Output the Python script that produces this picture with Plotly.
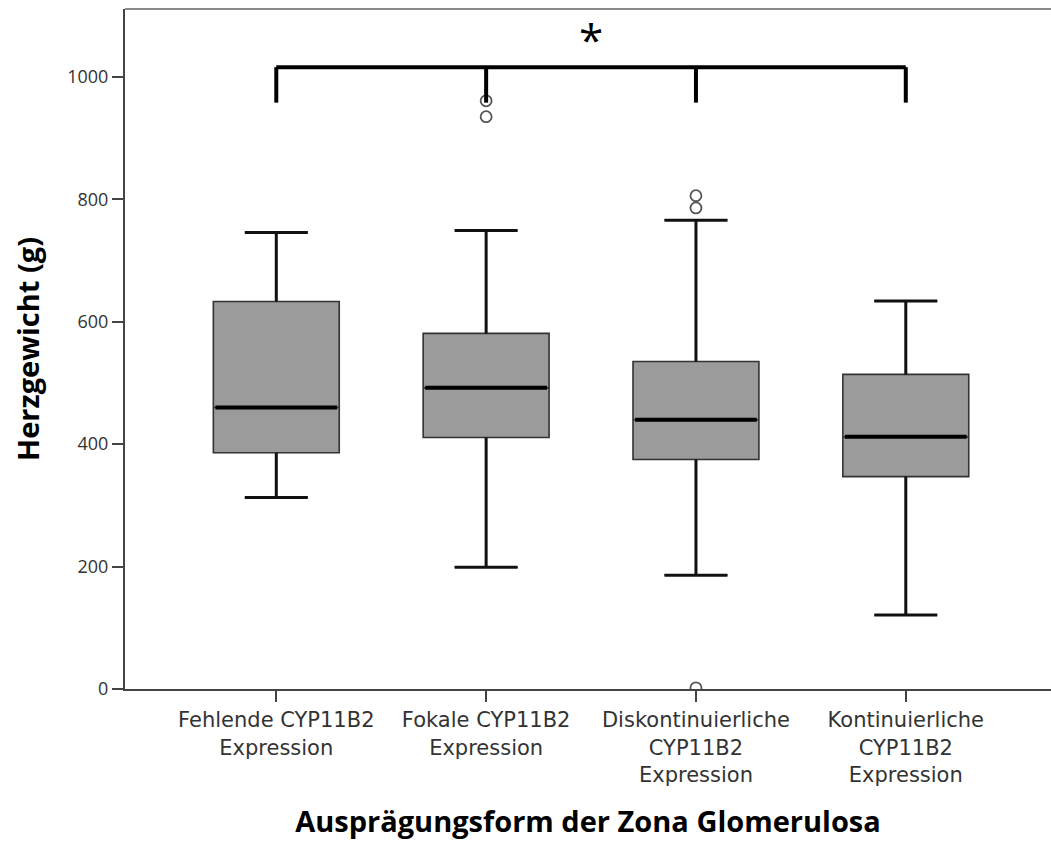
import plotly.graph_objects as go

# Heart weight by zona glomerulosa CYP11B2 expression pattern
categories = [
    "Fehlende CYP11B2<br>Expression",
    "Fokale CYP11B2<br>Expression",
    "Diskontinuierliche<br>CYP11B2<br>Expression",
    "Kontinuierliche<br>CYP11B2<br>Expression",
]
lower_whisker = [313, 199, 186, 121]
q1 = [386, 411, 375, 347]
median = [460, 492, 440, 412]
q3 = [633, 581, 535, 514]
upper_whisker = [746, 749, 766, 634]
outliers = [[], [961, 935], [806, 786, 2], []]

y_ticks = [0, 200, 400, 600, 800, 1000]
bracket_top = 1016
bracket_drop = 958
sig_label = "*"

pos = list(range(len(categories)))
box_w = 0.6
cap_half = 0.15
med_half = box_w / 2

fig = go.Figure()

fig.add_trace(go.Box(
    x=pos, q1=q1, median=median, q3=q3,
    lowerfence=lower_whisker, upperfence=upper_whisker,
    width=box_w, whiskerwidth=0.5,
    fillcolor="#9b9b9b",
    line=dict(color="#333333", width=1.6),
    boxpoints=False, hoverinfo="skip", showlegend=False,
))

# whiskers and caps, drawn heavier than the box outline
wx, wy = [], []
for i in pos:
    wx += [i, i, None, i, i, None,
           i - cap_half, i + cap_half, None, i - cap_half, i + cap_half, None]
    wy += [q3[i], upper_whisker[i], None, q1[i], lower_whisker[i], None,
           upper_whisker[i], upper_whisker[i], None, lower_whisker[i], lower_whisker[i], None]
fig.add_trace(go.Scatter(x=wx, y=wy, mode="lines",
                         line=dict(color="#111111", width=3),
                         hoverinfo="skip", showlegend=False))

# thick median bars
mx, my = [], []
for i in pos:
    mx += [i - med_half + 0.01, i + med_half - 0.01, None]
    my += [median[i], median[i], None]
fig.add_trace(go.Scatter(x=mx, y=my, mode="lines",
                         line=dict(color="#000000", width=4),
                         hoverinfo="skip", showlegend=False))

# outliers
ox, oy = [], []
for i, vals in enumerate(outliers):
    ox += [i] * len(vals)
    oy += vals
fig.add_trace(go.Scatter(x=ox, y=oy, mode="markers",
                         marker=dict(symbol="circle-open", size=11,
                                     color="#555555", line=dict(width=1.8)),
                         hoverinfo="skip", showlegend=False))

# significance bracket across all groups
fig.add_shape(type="line", xref="x", yref="y",
              x0=pos[0], x1=pos[-1], y0=bracket_top, y1=bracket_top,
              line=dict(color="black", width=4))
for i in pos:
    fig.add_shape(type="line", xref="x", yref="y",
                  x0=i, x1=i, y0=bracket_top, y1=bracket_drop,
                  line=dict(color="black", width=4))
fig.add_annotation(x=(pos[0] + pos[-1]) / 2, y=bracket_top, yanchor="bottom",
                   text=sig_label, showarrow=False, yshift=-4,
                   font=dict(family="Open Sans", size=44, color="black"))

# top frame line
fig.add_shape(type="line", xref="paper", yref="paper", x0=0, x1=1, y0=1, y1=1,
              line=dict(color="#8a8a8a", width=2))

fig.update_layout(
    width=1051, height=841,
    margin=dict(l=125, r=0, t=9, b=152),
    paper_bgcolor="white", plot_bgcolor="white",
    font=dict(family="Open Sans", color="#333333"),
    xaxis=dict(
        range=[-0.721, 3.692], tickmode="array", tickvals=pos, ticktext=categories,
        showgrid=False, zeroline=False, showline=True, linecolor="#444444", linewidth=2,
        ticks="outside", ticklen=11, tickwidth=2, tickcolor="#444444",
        tickfont=dict(family="DejaVu Sans", size=21, color="#333333"),
        title=dict(text="<b>Ausprägungsform der Zona Glomerulosa</b>",
                   font=dict(size=29, color="#000000"), standoff=26),
    ),
    yaxis=dict(
        range=[0, 1111], tickmode="array", tickvals=y_ticks,
        showgrid=False, zeroline=False, showline=True, linecolor="#444444", linewidth=2,
        ticks="outside", ticklen=11, tickwidth=2, tickcolor="#444444",
        tickfont=dict(size=18, color="#333333"),
        title=dict(text="<b>Herzgewicht (g)</b>",
                   font=dict(size=29, color="#000000"), standoff=19),
    ),
)

fig.write_html("out.html")
